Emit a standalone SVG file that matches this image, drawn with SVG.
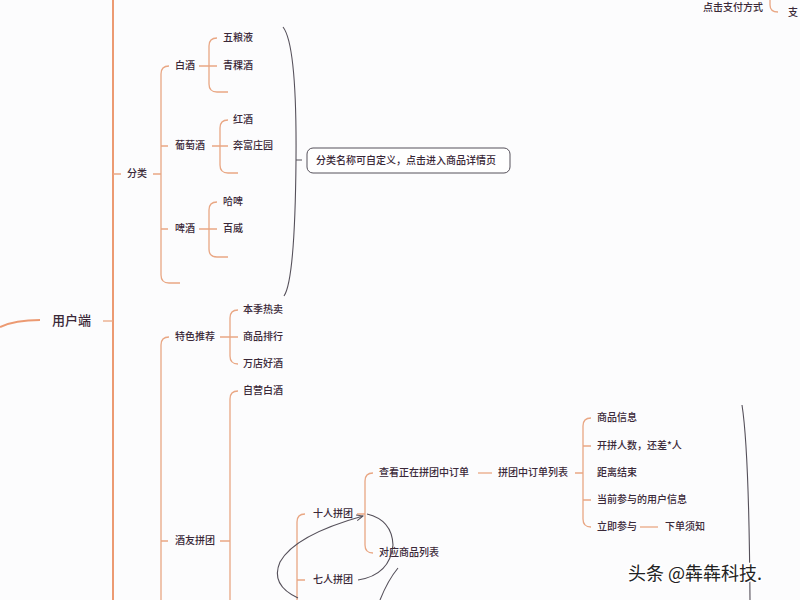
<svg xmlns="http://www.w3.org/2000/svg" width="800" height="600" viewBox="0 0 800 600">
<style>
text{font-family:"Noto Sans CJK SC","Noto Sans",sans-serif;fill:#3a2838;font-size:10px;font-weight:500;dominant-baseline:middle}
.big{font-size:13px}
.o{fill:none;stroke:#e9a784;stroke-width:1.3}
.om{fill:none;stroke:#ec9a72;stroke-width:2}
.d{fill:none;stroke:#55505a;stroke-width:1.1}
.box{fill:#fff;stroke:#55505a;stroke-width:1}
.wm{font-size:18px;font-weight:400;fill:#222;stroke:#fff;stroke-width:3;paint-order:stroke;font-family:"Noto Sans CJK SC",sans-serif}
</style>
<defs>
<marker id="ah" viewBox="0 0 8 8" refX="7" refY="4" markerWidth="7" markerHeight="7" orient="auto"><path d="M0,1 L7,4 L0,7" fill="none" stroke="#55505a" stroke-width="1"/></marker>
</defs>
<rect width="800" height="600" fill="#fcfcfd"/>
<g id="connectors">
<path class="om" d="M113,0 V600"/>
<path class="om" d="M0,327 Q15,320 40,320"/>
<path class="o" d="M103,321 H113"/>
<path class="o" d="M113,174 H121 M153,174 H161"/>
<path class="o" d="M169,66 Q161,66 161,74 V275 Q161,283 169,283 H180 M161,146 H168 M161,229 H168"/>
<path class="o" d="M199,66 H209 M217,38 Q209,38 209,46 V84 Q209,92 217,92 H228 M209,66 H217"/>
<path class="o" d="M212,146 H220 M228,120 Q220,120 220,128 V165 Q220,173 228,173 H238 M220,146 H228"/>
<path class="o" d="M199,229 H209 M217,202 Q209,202 209,210 V249 Q209,257 217,257 H228 M209,229 H217"/>
<path class="o" d="M169,337 Q161,337 161,345 V600 M161,541 H168"/>
<path class="o" d="M220,337 H230 M238,310 Q230,310 230,318 V356 Q230,364 238,364 M230,337 H238"/>
<path class="o" d="M220,541 H230 M238,391 Q230,391 230,399 V600"/>
<path class="o" d="M305,514 Q297,514 297,522 V600 M297,580 H305"/>
<path class="o" d="M373,473 Q365,473 365,481 V545 Q365,553 373,553 M365,514 H357"/>
<path class="o" d="M478,473 H492"/>
<path class="o" d="M575,473 H583 M591,418 Q583,418 583,426 V519 Q583,527 591,527 M583,446 H591 M583,500 H591"/>
<path class="o" d="M640,527 H658"/>
<path class="o" d="M770,0 V5 Q770,12 778,12"/>
<path class="d" d="M283,27 Q297,45 296,160 Q295,280 284,296 M296,160 H302"/>
<path class="d" d="M742,405 Q749,450 750,600"/>
<path class="d" d="M298,598 Q270,585 280,562 Q295,535 363,516" marker-end="url(#ah)"/>
<path class="d" d="M358,580 Q390,575 393,545 Q392,520 367,514"/>
<path class="d" d="M380,600 Q388,580 398,568"/>
</g>
<g id="n-yonghu"><text class="big" x="52" y="321">用户端</text></g>
<g id="n-fenlei"><text x="127" y="174">分类</text></g>
<g id="n-baijiu"><text x="175" y="66">白酒</text></g>
<g id="n-wuliangye"><text x="223" y="38">五粮液</text></g>
<g id="n-qingke"><text x="223" y="66">青稞酒</text></g>
<g id="n-putao"><text x="175" y="146">葡萄酒</text></g>
<g id="n-hongjiu"><text x="233" y="120">红酒</text></g>
<g id="n-benfu"><text x="233" y="146">奔富庄园</text></g>
<g id="n-pijiu"><text x="175" y="229">啤酒</text></g>
<g id="n-hapi"><text x="223" y="202">哈啤</text></g>
<g id="n-baiwei"><text x="223" y="229">百威</text></g>
<g id="n-note"><rect class="box" x="307" y="148" width="203" height="25" rx="6"/><text x="316" y="161" font-size="9.5">分类名称可自定义，点击进入商品详情页</text></g>
<g id="n-tese"><text x="175" y="337">特色推荐</text></g>
<g id="n-rexiao"><text x="243" y="310">本季热卖</text></g>
<g id="n-paihang"><text x="243" y="337">商品排行</text></g>
<g id="n-haojiu"><text x="243" y="364">万店好酒</text></g>
<g id="n-pintuan"><text x="175" y="541">酒友拼团</text></g>
<g id="n-ziying"><text x="243" y="391">自营白酒</text></g>
<g id="n-shiren"><text x="313" y="514">十人拼团</text></g>
<g id="n-qiren"><text x="313" y="580">七人拼团</text></g>
<g id="n-chakan"><text x="379" y="473">查看正在拼团中订单</text></g>
<g id="n-duiying"><text x="379" y="553">对应商品列表</text></g>
<g id="n-liebiao"><text x="498" y="473">拼团中订单列表</text></g>
<g id="n-xinxi"><text x="597" y="418">商品信息</text></g>
<g id="n-renshu"><text x="597" y="446">开拼人数，还差*人</text></g>
<g id="n-jieshu"><text x="597" y="473">距离结束</text></g>
<g id="n-yonghu2"><text x="597" y="500">当前参与的用户信息</text></g>
<g id="n-canyu"><text x="597" y="527">立即参与</text></g>
<g id="n-xuzhi"><text x="665" y="527">下单须知</text></g>
<g id="n-top"><text x="703" y="8" font-size="9">点击支付方式</text><text x="788" y="13">支</text></g>
<text class="wm" x="628" y="575">头条 @犇犇科技.</text>
</svg>
